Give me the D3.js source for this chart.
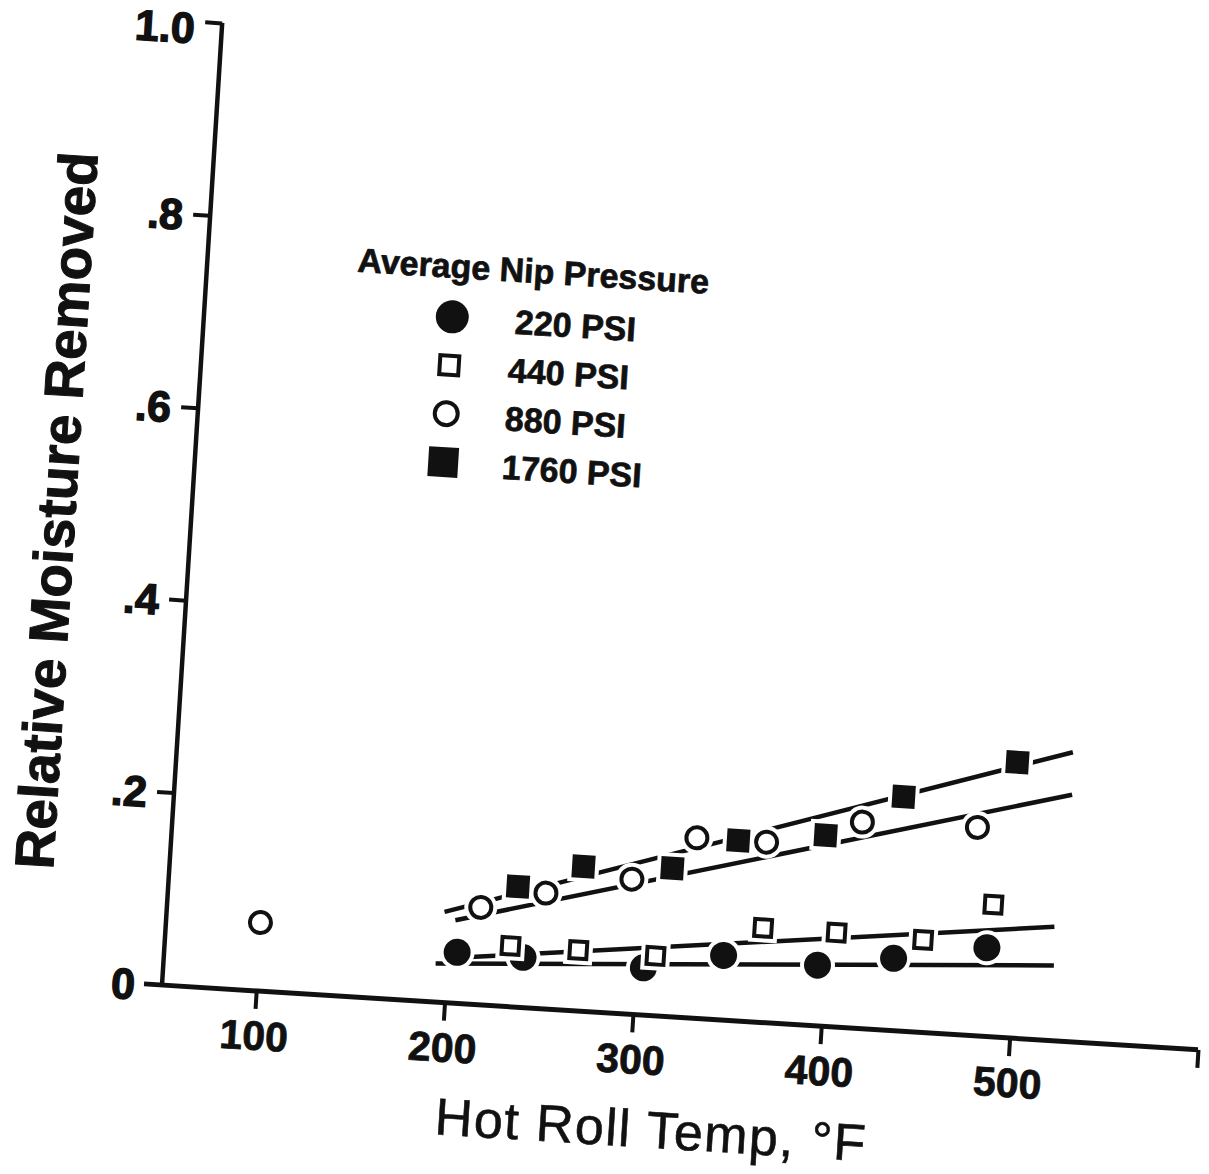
<!DOCTYPE html>
<html>
<head>
<meta charset="utf-8">
<script src="https://cdn.jsdelivr.net/npm/d3@7/dist/d3.min.js"></script>
<style>
  body { margin: 0; background: #fff; }
  svg { display: block; }
</style>
</head>
<body>
<svg id="chart" width="1209" height="1174"></svg>
<script>
// values (temperature °F, relative moisture removed)
const seriesNames = ["220 PSI", "440 PSI", "880 PSI", "1760 PSI"];

const temps220 = [205, 240, 304, 346, 396, 436, 485];
const vals220 = [0.053, 0.052, 0.049, 0.067, 0.063, 0.075, 0.092];

const temps440 = [233, 269, 310, 366, 405, 451, 487];
const vals440 = [0.063, 0.063, 0.062, 0.098, 0.098, 0.096, 0.137];

const temps880 = [100, 216, 250, 295, 328, 365, 415, 476];
const vals880 = [0.071, 0.101, 0.120, 0.140, 0.187, 0.187, 0.214, 0.216];

const temps1760 = [235, 269, 316, 350, 396, 436, 495];
const vals1760 = [0.125, 0.150, 0.154, 0.187, 0.198, 0.243, 0.286];

// hand-drawn fit lines, [temp, value] end points
const fit220 = [[194, 0.040], [521, 0.078]];
const fit440 = [[212, 0.049], [520, 0.118]];
const fit880 = [[203, 0.086], [525, 0.256]];
const fit1760 = [[197, 0.094], [524, 0.300]];

const xTicks = [100, 200, 300, 400, 500, 600];
const xTickLabels = ["100", "200", "300", "400", "500", ""];
const yTicks = [0, 0.2, 0.4, 0.6, 0.8, 1.0];
const yTickLabels = ["0", ".2", ".4", ".6", ".8", "1.0"];

const ink = "#111";
const font = "'Liberation Sans', Arial, Helvetica, sans-serif";

const series = [
  { name: seriesNames[0], temps: temps220, vals: vals220, fit: fit220, shape: "circle", filled: true },
  { name: seriesNames[1], temps: temps440, vals: vals440, fit: fit440, shape: "square", filled: false },
  { name: seriesNames[2], temps: temps880, vals: vals880, fit: fit880, shape: "circle", filled: false },
  { name: seriesNames[3], temps: temps1760, vals: vals1760, fit: fit1760, shape: "square", filled: true },
];

const svg = d3.select("#chart");
svg.append("rect").attr("width", 1209).attr("height", 1174).attr("fill", "#fff");

const innerW = 1038;
const innerH = 964;

// the scanned page sits a few degrees off square
const g = svg.append("g").attr("transform", "translate(162,985) rotate(3.58)");

const x = d3.scaleLinear().domain([50, 600]).range([0, innerW]);
const y = d3.scaleLinear().domain([0, 1]).range([0, -innerH]);

// x axis
g.append("line")
  .attr("x1", x(50) - 18)
  .attr("x2", x(600))
  .attr("y1", 0)
  .attr("y2", 0)
  .attr("stroke", ink)
  .attr("stroke-width", 5);

const xAxisG = g.append("g")
  .call(d3.axisBottom(x)
    .tickValues(xTicks)
    .tickSize(18)
    .tickSizeOuter(0)
    .tickFormat((d, i) => xTickLabels[i]));
xAxisG.select(".domain").remove();
xAxisG.selectAll(".tick line").attr("stroke", ink).attr("stroke-width", 4);
xAxisG.selectAll(".tick text")
  .attr("y", 59)
  .attr("dy", 0)
  .attr("fill", ink)
  .attr("stroke", ink)
  .attr("stroke-width", 0.8)
  .style("font-family", font)
  .style("font-size", "41px")
  .style("font-weight", "700");

// y axis
g.append("line")
  .attr("x1", 0)
  .attr("x2", 0)
  .attr("y1", y(0))
  .attr("y2", y(1))
  .attr("stroke", ink)
  .attr("stroke-width", 4.5);

const yAxisG = g.append("g")
  .call(d3.axisLeft(y)
    .tickValues(yTicks)
    .tickSize(17)
    .tickSizeOuter(0)
    .tickFormat((d, i) => yTickLabels[i]));
yAxisG.select(".domain").remove();
yAxisG.selectAll(".tick line")
  .attr("stroke", ink)
  .attr("stroke-width", 4)
  .attr("opacity", (d) => (d === 0 ? 0 : 1));
yAxisG.selectAll(".tick text")
  .attr("x", -27)
  .attr("dy", (d) => (d === 1 ? "0.5em" : "0.36em"))
  .attr("fill", ink)
  .attr("stroke", ink)
  .attr("stroke-width", 1.4)
  .style("font-family", font)
  .style("font-size", "43px")
  .style("font-weight", "700");

// axis titles
g.append("text")
  .attr("x", 497)
  .attr("y", 132)
  .attr("text-anchor", "middle")
  .attr("fill", ink)
  .attr("stroke", ink)
  .attr("stroke-width", 0.6)
  .style("font-family", font)
  .style("font-size", "52px")
  .style("letter-spacing", "1.5px")
  .style("font-weight", "400")
  .text("Hot Roll Temp, °F");

g.append("text")
  .attr("transform", "translate(-116,-467) rotate(-90)")
  .attr("text-anchor", "middle")
  .attr("fill", ink)
  .attr("stroke", ink)
  .attr("stroke-width", 1)
  .style("font-family", font)
  .style("font-size", "55px")
  .style("font-weight", "700")
  .text("Relative Moisture Removed");

// fit lines
const line = d3.line().x((d) => x(d[0])).y((d) => y(d[1]));
g.append("g")
  .selectAll("path")
  .data(series)
  .enter()
  .append("path")
  .attr("d", (d) => line(d.fit))
  .attr("fill", "none")
  .attr("stroke", ink)
  .attr("stroke-width", 4.5);

function drawMarker(sel, s, size, halo) {
  const sw = 4;
  if (s.shape === "circle") {
    if (halo) {
      sel.append("circle").attr("r", size / 2 + 4).attr("fill", "#fff");
    }
    sel.append("circle")
      .attr("r", s.filled ? size / 2 : size / 2 - sw / 2)
      .attr("fill", s.filled ? ink : "#fff")
      .attr("stroke", s.filled ? "none" : ink)
      .attr("stroke-width", sw);
  } else {
    if (halo) {
      sel.append("rect")
        .attr("x", -size / 2 - 4).attr("y", -size / 2 - 4)
        .attr("width", size + 8).attr("height", size + 8)
        .attr("fill", "#fff");
    }
    const inset = s.filled ? 0 : sw / 2;
    sel.append("rect")
      .attr("x", -size / 2 + inset).attr("y", -size / 2 + inset)
      .attr("width", size - 2 * inset).attr("height", size - 2 * inset)
      .attr("fill", s.filled ? ink : "#fff")
      .attr("stroke", s.filled ? "none" : ink)
      .attr("stroke-width", sw);
  }
}

const markerSize = { "220 PSI": 27, "440 PSI": 21, "880 PSI": 25, "1760 PSI": 23 };

series.forEach((s) => {
  const pts = s.temps.map((t, i) => ({ t, v: s.vals[i] }));
  g.append("g")
    .selectAll("g")
    .data(pts)
    .enter()
    .append("g")
    .attr("transform", (d) => `translate(${x(d.t)},${y(d.v)})`)
    .each(function () {
      drawMarker(d3.select(this), s, markerSize[s.name], true);
    });
});

// legend
const legend = g.append("g");
legend.append("text")
  .attr("x", 150)
  .attr("y", -724)
  .attr("fill", ink)
  .attr("stroke", ink)
  .attr("stroke-width", 0.7)
  .style("font-family", font)
  .style("font-size", "34px")
  .style("font-weight", "700")
  .text("Average Nip Pressure");

const legendSize = { "220 PSI": 33, "440 PSI": 23, "880 PSI": 27, "1760 PSI": 30 };
series.forEach((s, i) => {
  const row = legend.append("g").attr("transform", `translate(248,${-685 + i * 48.5})`);
  drawMarker(row, s, legendSize[s.name], false);
  row.append("text")
    .attr("x", i === 0 ? 63 : 59)
    .attr("y", 13)
    .attr("fill", ink)
    .attr("stroke", ink)
    .attr("stroke-width", 0.7)
    .style("font-family", font)
    .style("font-size", "34px")
    .style("font-weight", "700")
    .text(s.name);
});
</script>
</body>
</html>
